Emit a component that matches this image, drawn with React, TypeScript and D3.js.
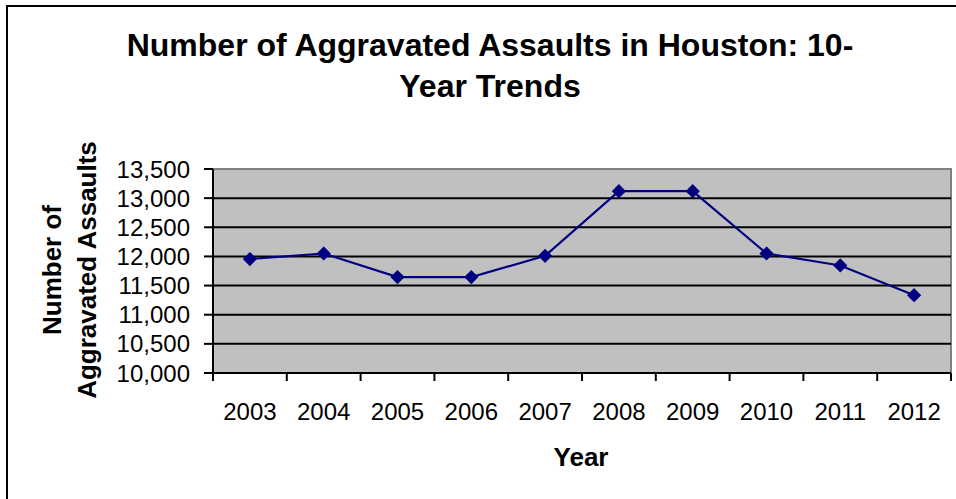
import React from "react";
import * as d3 from "d3";

const years = ["2003", "2004", "2005", "2006", "2007", "2008", "2009", "2010", "2011", "2012"];
const assaults = [11955, 12050, 11645, 11645, 12010, 13120, 13120, 12050, 11845, 11335];
const yTicks = [10000, 10500, 11000, 11500, 12000, 12500, 13000, 13500];

const W = 956;
const H = 499;
const plot = { left: 213, right: 951, top: 169, bottom: 373 };

export default function App() {
  const x = d3.scaleBand<string>().domain(years).range([plot.left, plot.right]).padding(0);
  const y = d3.scaleLinear().domain([10000, 13500]).range([plot.bottom, plot.top]);
  const fmt = d3.format(",");
  const line = d3
    .line<number>()
    .x((_, i) => (x(years[i]) as number) + x.bandwidth() / 2)
    .y((d) => y(d));
  const font = "'Liberation Sans', Arial, sans-serif";
  const diamond = d3.symbol().type(d3.symbolDiamond2).size(100)();

  return (
    <svg
      width={W}
      height={H}
      style={{ position: "absolute", left: 0, top: 0 }}
      fontFamily={font}
    >
      <rect x={0} y={0} width={W} height={H} fill="#fff" />
      <rect x={7} y={6} width={W + 10} height={H + 10} fill="none" stroke="#000" strokeWidth={2} />
      <text x={490} y={56} textAnchor="middle" fontSize={32} fontWeight="bold">
        Number of Aggravated Assaults in Houston: 10-
      </text>
      <text x={490} y={97} textAnchor="middle" fontSize={32} fontWeight="bold">
        Year Trends
      </text>

      <rect
        x={plot.left}
        y={plot.top}
        width={plot.right - plot.left}
        height={plot.bottom - plot.top}
        fill="#C0C0C0"
        stroke="#808080"
        strokeWidth={2}
      />
      {yTicks.slice(1, -1).map((t) => (
        <line key={t} x1={plot.left} x2={plot.right} y1={y(t)} y2={y(t)} stroke="#000" strokeWidth={2} />
      ))}
      <line x1={plot.left} x2={plot.left} y1={plot.top} y2={plot.bottom} stroke="#000" strokeWidth={2} />
      <line x1={plot.left} x2={plot.right} y1={plot.bottom} y2={plot.bottom} stroke="#000" strokeWidth={2} />
      {yTicks.map((t) => (
        <g key={t}>
          <line x1={plot.left - 9} x2={plot.left} y1={y(t)} y2={y(t)} stroke="#000" strokeWidth={2} />
          <text x={190} y={y(t)} dy="0.36em" textAnchor="end" fontSize={24}>
            {fmt(t)}
          </text>
        </g>
      ))}
      {years.map((yr) => (
        <line
          key={"t" + yr}
          x1={x(yr) as number}
          x2={x(yr) as number}
          y1={plot.bottom}
          y2={plot.bottom + 8}
          stroke="#000"
          strokeWidth={2}
        />
      ))}
      <line x1={plot.right} x2={plot.right} y1={plot.bottom} y2={plot.bottom + 8} stroke="#000" strokeWidth={2} />
      {years.map((yr) => (
        <text
          key={"l" + yr}
          x={(x(yr) as number) + x.bandwidth() / 2}
          y={420}
          textAnchor="middle"
          fontSize={24}
        >
          {yr}
        </text>
      ))}
      <text x={581} y={466} textAnchor="middle" fontSize={26} fontWeight="bold">
        Year
      </text>
      <g transform="translate(52,270) rotate(-90)">
        <text x={0} y={0} dy="0.36em" textAnchor="middle" fontSize={26} fontWeight="bold">
          Number of
        </text>
      </g>
      <g transform="translate(87,270) rotate(-90)">
        <text x={0} y={0} dy="0.36em" textAnchor="middle" fontSize={26} fontWeight="bold">
          Aggravated Assaults
        </text>
      </g>

      <path d={line(assaults) || ""} fill="none" stroke="#000080" strokeWidth={2.2} />
      {assaults.map((v, i) => (
        <path
          key={"m" + i}
          d={diamond || ""}
          transform={`translate(${(x(years[i]) as number) + x.bandwidth() / 2},${y(v)})`}
          fill="#000080"
          stroke="#000080"
          strokeWidth={1.2}
          strokeLinejoin="miter"
        />
      ))}
    </svg>
  );
}
